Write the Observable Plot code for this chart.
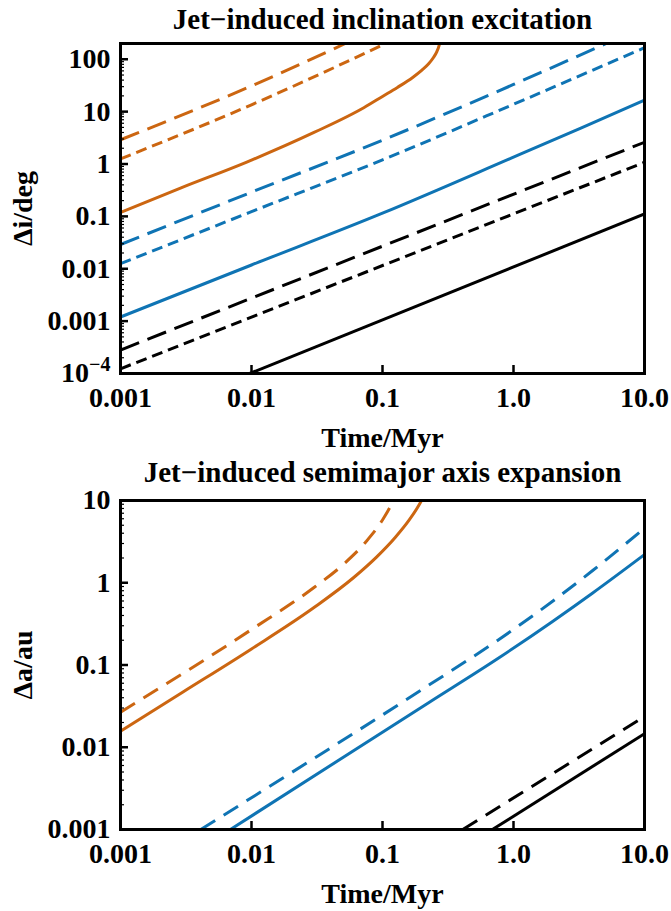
<!DOCTYPE html>
<html>
<head>
<meta charset="utf-8">
<script src="https://cdn.jsdelivr.net/npm/d3@7"></script>
<script src="https://cdn.jsdelivr.net/npm/@observablehq/plot@0.6"></script>
<style>
  html, body { margin: 0; padding: 0; background: #fff; }
  body { width: 671px; height: 911px; overflow: hidden; }
  svg { display: block; }
</style>
</head>
<body>
<div id="chart"></div>
<script>
// ---------- shared axis data ----------
const xTicks = [0.001, 0.01, 0.1, 1, 10];
const xTickLabels = ["0.001", "0.01", "0.1", "1.0", "10.0"];

// ---------- top panel: inclination excitation (Δi/deg) ----------
const incTicks = [1e-4, 1e-3, 0.01, 0.1, 1, 10, 100];
const incTickLabels = ["10⁻⁴", "0.001", "0.01", "0.1", "1", "10", "100"];
// [time/Myr, Δi/deg]
const incOrangeLong  = [[0.001, 2.9], [0.01, 31], [0.052, 200]];
const incOrangeShort = [[0.001, 1.25], [0.01, 13.5], [0.106, 200]];
const incOrangeSolid = [[0.001, 0.119], [0.0029, 0.35], [0.0093, 1.1], [0.03, 4.0], [0.0725, 12], [0.1, 19.5], [0.13, 29], [0.17, 45], [0.2, 62], [0.225, 82], [0.245, 108], [0.26, 140], [0.27, 180], [0.276, 230]];
const incBlueLong    = [[0.001, 0.029], [0.01, 0.29], [0.1, 2.85], [1, 33], [5.1, 200]];
const incBlueShort   = [[0.001, 0.0125], [0.01, 0.123], [0.1, 1.2], [1, 13.8], [10, 166]];
const incBlueSolid   = [[0.001, 0.0012], [0.01, 0.0118], [0.1, 0.115], [1, 1.35], [3.3, 4.9], [10, 16.5]];
const incBlackLong   = [[0.001, 0.00028], [10, 2.6]];
const incBlackShort  = [[0.001, 0.000123], [10, 1.08]];
const incBlackSolid  = [[0.0097, 0.0001], [10, 0.111]];

// ---------- bottom panel: semimajor axis expansion (Δa/au) ----------
const saTicks = [0.001, 0.01, 0.1, 1, 10];
const saTickLabels = ["0.001", "0.01", "0.1", "1", "10"];
// [time/Myr, Δa/au]
const saOrangeSolid = [[0.001, 0.0157], [0.003, 0.047], [0.01, 0.157], [0.03, 0.5], [0.06, 1.15], [0.09, 2.05], [0.125, 3.55], [0.16, 5.8], [0.19, 8.8], [0.215, 12.7]];
const saOrangeDash  = [[0.001, 0.0267], [0.01, 0.27], [0.03, 0.875], [0.05, 1.66], [0.075, 3.17], [0.1, 5.8], [0.12, 9.7], [0.13, 12.8]];
const saBlueSolid   = [[0.0069, 0.001], [0.228, 0.0353], [0.76, 0.12], [2, 0.341], [4, 0.746], [10, 2.2]];
const saBlueDash    = [[0.0041, 0.001], [0.234, 0.059], [0.76, 0.2], [2, 0.6], [4, 1.4], [10, 4.6]];
const saBlackSolid  = [[0.69, 0.001], [10, 0.0146]];
const saBlackDash   = [[0.41, 0.001], [10, 0.0237]];

// ---------- styling ----------
const ORANGE = "#cc6611";
const BLUE = "#0f74b4";
const BLACK = "#000000";
const LONG = "20,9";
const SHORT = "11,6";
const DASH2 = "17,10";
const FONT = "'Liberation Serif', 'Times New Roman', serif";

const W = 671, ML = 120, MR = 27;

function minorTicks(lo, hi) {
  const out = [];
  for (let e = Math.floor(Math.log10(lo)); e <= Math.ceil(Math.log10(hi)); e++)
    for (let m = 2; m <= 9; m++) { const v = m * Math.pow(10, e); if (v > lo && v < hi) out.push(v); }
  return out;
}
function fmt(vals, labels) {
  const m = new Map(vals.map((v, i) => [v, labels[i]]));
  return d => m.has(d) ? m.get(d) : "";
}

function makePanel({title, titleDy, yLabel, yDomain, yTicks, yTickLabels, series, height, marginTop, marginBottom}) {
  const plotW = W - ML - MR, plotH = height - marginTop - marginBottom;
  const svg = Plot.plot({
    width: W, height, marginLeft: ML, marginRight: MR, marginTop, marginBottom,
    style: {fontFamily: FONT, fontWeight: "bold", fontSize: "28px", color: "#000", background: "#fff", overflow: "visible"},
    x: {type: "log", domain: [0.001, 10]},
    y: {type: "log", domain: yDomain},
    marks: [
      ...series.map(s => Plot.line(s.data, {x: d => d[0], y: d => d[1], stroke: s.color, strokeWidth: 3,
        strokeDasharray: s.dash, strokeLinecap: "butt", clip: true, curve: "monotone-x"})),
      Plot.tickX(xTicks, {x: d => d, insetTop: plotH - 8, stroke: "#000", strokeWidth: 2.5}),
      Plot.tickY(yTicks, {y: d => d, insetRight: plotW - 8, stroke: "#000", strokeWidth: 2.5}),
      Plot.tickY(minorTicks(yDomain[0], yDomain[1]), {y: d => d, insetRight: plotW - 4, stroke: "#000", strokeWidth: 1.2}),
      Plot.frame({stroke: "#000", strokeWidth: 3}),
      Plot.axisX(xTicks, {tickSize: 0, tickPadding: 14, tickFormat: fmt(xTicks, xTickLabels),
        label: "Time/Myr", labelAnchor: "center", labelArrow: "none", labelOffset: 73}),
      Plot.axisY(yTicks, {tickSize: 0, tickPadding: 10, tickFormat: fmt(yTicks, yTickLabels),
        label: yLabel, labelAnchor: "center", labelArrow: "none", labelOffset: 108}),
      Plot.text([title], {text: d => d, frameAnchor: "top", dy: titleDy, lineAnchor: "bottom", fontSize: 29, fontWeight: "bold"})
    ]
  });
  // superscript exponent for 10⁻⁴
  svg.querySelectorAll("text").forEach(t => {
    if (t.textContent === "10⁻⁴") {
      t.textContent = "10";
      const ts = document.createElementNS("http://www.w3.org/2000/svg", "tspan");
      ts.setAttribute("dy", "-11");
      ts.setAttribute("font-size", "20");
      ts.textContent = "−4";
      t.appendChild(ts);
    }
  });
  return svg;
}

const incPanel = makePanel({
  title: "Jet−induced inclination excitation", titleDy: -15,
  yLabel: "Δi/deg", yDomain: [1e-4, 200], yTicks: incTicks, yTickLabels: incTickLabels,
  height: 456, marginTop: 43, marginBottom: 83,
  series: [
    {data: incOrangeLong, color: ORANGE, dash: LONG},
    {data: incOrangeShort, color: ORANGE, dash: SHORT},
    {data: incOrangeSolid, color: ORANGE, dash: null},
    {data: incBlueLong, color: BLUE, dash: LONG},
    {data: incBlueShort, color: BLUE, dash: SHORT},
    {data: incBlueSolid, color: BLUE, dash: null},
    {data: incBlackLong, color: BLACK, dash: LONG},
    {data: incBlackShort, color: BLACK, dash: SHORT},
    {data: incBlackSolid, color: BLACK, dash: null}
  ]
});

const saPanel = makePanel({
  title: "Jet−induced semimajor axis expansion", titleDy: -19,
  yLabel: "Δa/au", yDomain: [0.001, 10], yTicks: saTicks, yTickLabels: saTickLabels,
  height: 455, marginTop: 44, marginBottom: 82,
  series: [
    {data: saOrangeSolid, color: ORANGE, dash: null},
    {data: saOrangeDash, color: ORANGE, dash: DASH2},
    {data: saBlueSolid, color: BLUE, dash: null},
    {data: saBlueDash, color: BLUE, dash: DASH2},
    {data: saBlackSolid, color: BLACK, dash: null},
    {data: saBlackDash, color: BLACK, dash: DASH2}
  ]
});

const root = document.getElementById("chart");
root.appendChild(incPanel);
root.appendChild(saPanel);
</script>
</body>
</html>
